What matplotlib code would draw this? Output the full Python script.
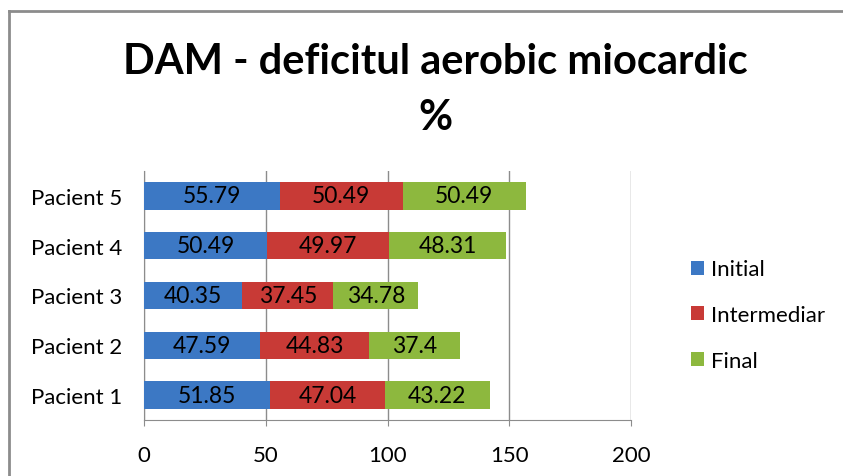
import matplotlib.pyplot as plt
from matplotlib.lines import Line2D
import numpy as np

# data
patients = ['Pacient 1', 'Pacient 2', 'Pacient 3', 'Pacient 4', 'Pacient 5']
initial = [51.85, 47.59, 40.35, 50.49, 55.79]
intermediar = [47.04, 44.83, 37.45, 49.97, 50.49]
final = [43.22, 37.4, 34.78, 48.31, 50.49]
series_names = ['Initial', 'Intermediar', 'Final']
colors = ['#3C78C4', '#C83A36', '#8DB83E']
xticks = [0, 50, 100, 150, 200]

plt.rcParams['font.family'] = ['Lato', 'DejaVu Sans']

fig = plt.figure(figsize=(8.43, 4.77), dpi=100)
W, H = 843, 477

# chart frame: only left and top edges are visible
fig.lines.append(Line2D([9 / W, 9 / W], [0, 1 - 12 / H], transform=fig.transFigure,
                        color='#8C8C8C', linewidth=2))
fig.lines.append(Line2D([9 / W, 1], [1 - 12 / H, 1 - 12 / H], transform=fig.transFigure,
                        color='#8C8C8C', linewidth=2))

ax = fig.add_axes([144 / W, 1 - 421 / H, (631 - 144) / W, (421 - 172) / H])

y = np.arange(len(patients))
left = np.zeros(len(patients))
for name, vals, col in zip(series_names, [initial, intermediar, final], colors):
    vals = np.array(vals)
    ax.barh(y, vals, left=left, height=0.55, color=col, label=name, zorder=3)
    for yi, l, v in zip(y, left, vals):
        ax.text(l + v / 2, yi, f'{v:g}', ha='center', va='center',
                fontsize=16.5, color='black', zorder=4)
    left = left + vals

ax.set_xlim(0, 200)
ax.set_ylim(-0.5, len(patients) - 0.5)
ax.set_xticks(xticks)
ax.set_yticks(y)
ax.set_yticklabels(patients)
ax.tick_params(axis='both', labelsize=16, colors='black', length=4,
               color='#8C8C8C')
ax.tick_params(axis='x', pad=14)
ax.tick_params(axis='y', pad=16, length=0)
ax.xaxis.grid(True, color='#8C8C8C', linewidth=1, zorder=0)
for s in ['top', 'right']:
    ax.spines[s].set_visible(False)
ax.spines['left'].set_color('#8C8C8C')
ax.spines['bottom'].set_color('#8C8C8C')

fig.text(435 / W, 1 - 62 / H, 'DAM - deficitul aerobic miocardic',
         ha='center', va='center', fontsize=30, fontweight='bold')
fig.text(435 / W, 1 - 118 / H, '%', ha='center', va='center',
         fontsize=30, fontweight='bold')

handles, labels = ax.get_legend_handles_labels()
fig.legend(handles, labels, loc='center left', bbox_to_anchor=(691 / W, 1 - 316 / H),
           frameon=False, fontsize=16, handlelength=0.6, handleheight=0.6,
           labelspacing=1.15, handletextpad=0.3, borderpad=0, borderaxespad=0)

fig.savefig('out.png', dpi=100, facecolor='white')
